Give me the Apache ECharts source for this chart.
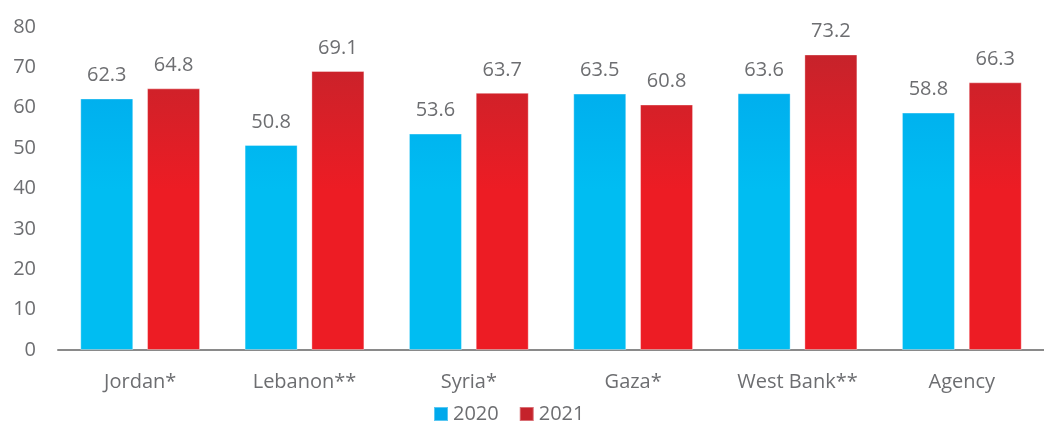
<!DOCTYPE html>
<html><head><meta charset="utf-8">
<script src="https://cdn.jsdelivr.net/npm/echarts@6/dist/echarts.min.js"></script>
<style>html,body{margin:0;padding:0;background:#fff}#c{width:1044px;height:423px}</style>
</head><body><div id="c"></div>
<script>
const categories = ['Jordan*', 'Lebanon**', 'Syria*', 'Gaza*', 'West Bank**', 'Agency'];
const values2020 = [62.3, 50.8, 53.6, 63.5, 63.6, 58.8];
const values2021 = [64.8, 69.1, 63.7, 60.8, 73.2, 66.3];
const yTicks = [0, 10, 20, 30, 40, 50, 60, 70, 80];

const font = '"Open Sans", sans-serif';
const grey = '#6d6e71';
const chart = echarts.init(document.getElementById('c'));
function grad(top, bottom) {
  return new echarts.graphic.LinearGradient(0, 50, 0, 190, [
    {offset: 0, color: top}, {offset: 1, color: bottom}
  ], true);
}
chart.setOption({
  animation: false,
  textStyle: {fontFamily: font},
  grid: {left: 58, right: 0, top: 27, bottom: 73},
  legend: {
    data: ['2020', '2021'], bottom: -1, left: 433, padding: 0,
    itemWidth: 14, itemHeight: 14, itemGap: 20, icon: 'rect',
    textStyle: {fontSize: 20, color: grey, fontFamily: font}
  },
  xAxis: {
    type: 'category', data: categories,
    axisLine: {lineStyle: {color: '#8a8a8a', width: 2}},
    axisTick: {show: false},
    axisLabel: {fontSize: 20, color: grey, margin: 22, fontFamily: font}
  },
  yAxis: {
    type: 'value', min: yTicks[0], max: yTicks[yTicks.length - 1], interval: 10,
    axisLine: {show: false}, axisTick: {show: false}, splitLine: {show: false},
    axisLabel: {fontSize: 20, color: grey, margin: 22, fontFamily: font}
  },
  series: [
    {
      name: '2020', type: 'bar', data: values2020, barWidth: 53, barGap: '26%',
      itemStyle: {color: grad('#00a9ec', '#00bdf2'), borderColor: 'rgba(255,255,255,0.35)', borderWidth: 1},
      label: {show: true, position: 'top', distance: 13, fontSize: 20, color: grey, fontFamily: font, formatter: p => p.value.toFixed(1)}
    },
    {
      name: '2021', type: 'bar', data: values2021, barWidth: 53,
      itemStyle: {color: grad('#c5232b', '#ed1c24'), borderColor: 'rgba(255,255,255,0.35)', borderWidth: 1},
      label: {show: true, position: 'top', distance: 13, fontSize: 20, color: grey, fontFamily: font, formatter: p => p.value.toFixed(1)}
    }
  ]
});
</script></body></html>
